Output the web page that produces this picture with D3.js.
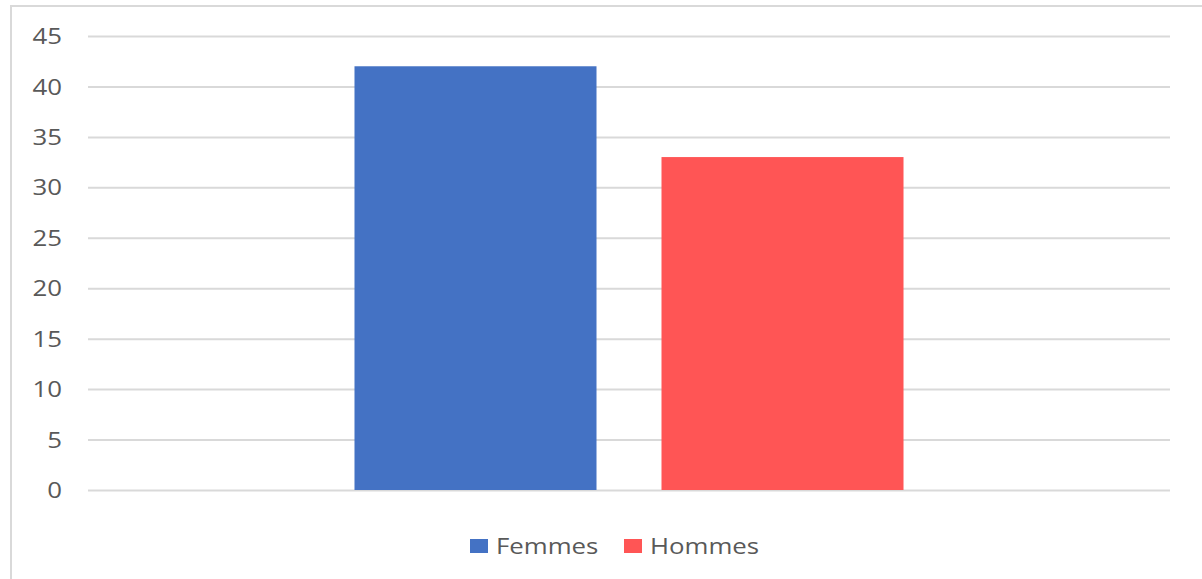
<!DOCTYPE html>
<html><head><meta charset="utf-8">
<script src="https://cdn.jsdelivr.net/npm/d3@7"></script>
<style>html,body{margin:0;padding:0;background:#fff;overflow:hidden}</style>
</head><body>
<script>
const categories = [""];
const seriesNames = ["Femmes", "Hommes"];
const seriesValues = [42, 33];
const seriesColors = ["#4472C4", "#FF5555"];
const tickValues = [0, 5, 10, 15, 20, 25, 30, 35, 40, 45];

const W = 1202, H = 579;
const sx = 1.23; // horizontal stretch of the reference rendering
const svg = d3.select("body").append("svg").attr("width", W).attr("height", H);

// frame
svg.append("rect").attr("x", 11).attr("y", 6).attr("width", W + 20).attr("height", H + 20)
  .attr("fill", "#fff").attr("stroke", "#d9d9d9").attr("stroke-width", 2);

const plot = {left: 88, right: 1170, top: 36, bottom: 490};
const y = d3.scaleLinear().domain([0, 45]).range([plot.bottom, plot.top]);
const x0 = d3.scaleBand().domain(categories).range([plot.left, plot.right]).paddingOuter(0.4854);
const x1 = d3.scaleBand().domain(seriesNames).range([0, x0.bandwidth()]).paddingInner(0.2117);

const axis = svg.append("g").attr("transform", `translate(${plot.left},0)`)
  .call(d3.axisLeft(y).tickValues(tickValues).tickSize(-(plot.right - plot.left)).tickPadding(0));
axis.select(".domain").remove();
axis.selectAll(".tick line").attr("stroke", "#d9d9d9").attr("stroke-width", 2);
axis.selectAll(".tick text")
  .attr("x", -26 / sx).attr("dy", "0.36em")
  .attr("transform", `scale(${sx},1)`)
  .attr("fill", "#595959")
  .style("font-family", "'Open Sans', sans-serif").style("font-size", "21px");

const g = svg.append("g");
categories.forEach(c => {
  g.selectAll("rect.bar").data(seriesNames).enter().append("rect")
    .attr("class", "bar")
    .attr("x", d => x0(c) + x1(d))
    .attr("width", x1.bandwidth())
    .attr("y", (d, i) => y(seriesValues[i]))
    .attr("height", (d, i) => y(0) - y(seriesValues[i]))
    .attr("fill", (d, i) => seriesColors[i]);
});

// legend
const legendItems = [{x: 470}, {x: 624}];
const lg = svg.append("g");
seriesNames.forEach((name, i) => {
  const it = lg.append("g").attr("transform", `translate(${legendItems[i].x},539)`);
  it.append("rect").attr("width", 18).attr("height", 14).attr("fill", seriesColors[i]);
  it.append("text").attr("x", 26 / sx).attr("y", 14.5)
    .attr("transform", `scale(${sx},1)`)
    .attr("fill", "#595959")
    .style("font-family", "'Open Sans', sans-serif").style("font-size", "21px")
    .text(name);
});
</script>
</body></html>
